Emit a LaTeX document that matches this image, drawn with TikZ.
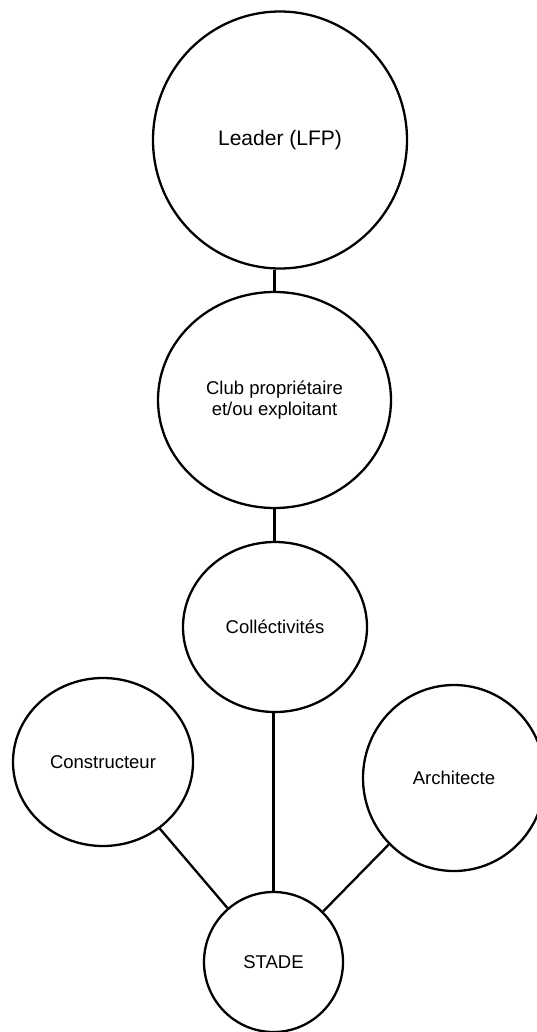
\documentclass[tikz,border=0pt]{standalone}
\usepackage{fontspec}
\setmainfont{Liberation Sans}
\usetikzlibrary{shapes.geometric}
\tikzset{
  bubble/.style={ellipse, draw=black, line width=2.3pt, inner sep=0pt, align=center, font=\fontsize{18.5}{20.5}\selectfont},
  link/.style={draw=black, line width=2.3pt}
}
\begin{document}
\begin{tikzpicture}[x=1pt,y=-1pt]
\useasboundingbox (0,0) rectangle (537,1032);
\begin{scope}
\clip (0,0) rectangle (537,1032);
\node[bubble, minimum width=254pt, minimum height=257pt, font=\fontsize{21}{24}\selectfont] (leader) at (280,140) {Leader (LFP)};
\node[bubble, minimum width=233pt, minimum height=216pt] (club) at (274.5,400) {Club propriétaire\\et/ou exploitant};
\node[bubble, minimum width=184pt, minimum height=170pt] (coll) at (275,627) {Colléctivités};
\node[bubble, minimum width=180pt, minimum height=168pt] (cons) at (103,762) {Constructeur};
\node[bubble, minimum width=182pt, minimum height=186pt] (arch) at (454,778) {Architecte};
\node[bubble, minimum width=139pt, minimum height=140pt] (stade) at (273.5,962) {STADE};
\draw[link] (club.north) -- (club.north |- leader.south);
\draw[link] (club.south) -- (club.south |- coll.north);
\draw[link] (stade.north) -- (stade.north |- coll.south);
\draw[link] (cons) -- (stade);
\draw[link] (arch) -- (stade);
\end{scope}
\end{tikzpicture}
\end{document}
